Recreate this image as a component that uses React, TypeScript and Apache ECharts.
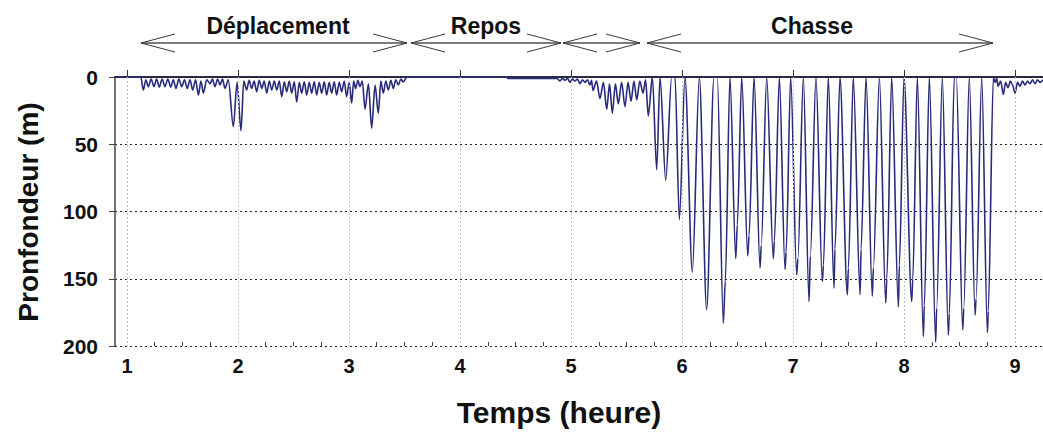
import React, { useEffect, useRef } from "react";
import * as echarts from "echarts";

// Axis extents (hours / metres)
const xMin = 0.892;
const xMax = 9.252;
const hourTicks = [1, 2, 3, 4, 5, 6, 7, 8, 9];
const quarterTicks = [
  1.25, 1.5, 1.75, 2.25, 2.5, 2.75, 3.25, 3.5, 3.75, 4.25, 4.5, 4.75, 5.25, 5.5, 5.75,
  6.25, 6.5, 6.75, 7.25, 7.5, 7.75, 8.25, 8.5, 8.75, 9.25,
];
const depthTicks = [0, 50, 100, 150, 200];

const phaseLabels = ["Déplacement", "Repos", "", "Chasse"];
const yTitle = "Pronfondeur (m)";
const xTitle = "Temps (heure)";

// Dive profile: [time (h), depth (m)]
const startSurface: number[][] = [
  [0.892, 0], [1.125, 0],
];

const deplacement: number[][] = [
  [1.147, 9.7], [1.17, 2], [1.192, 7.2], [1.218, 1.5], [1.243, 7.2], [1.267, 1.5],
  [1.291, 7.5], [1.317, 1.5], [1.342, 7.2], [1.368, 1.5], [1.394, 7.5], [1.418, 2],
  [1.441, 8.5], [1.467, 1.5], [1.493, 7.2], [1.518, 2], [1.543, 8.5], [1.568, 2],
  [1.592, 9.7], [1.618, 2], [1.643, 13.4], [1.666, 3], [1.688, 12], [1.718, 2],
  [1.748, 5], [1.77, 1.5], [1.793, 7.2], [1.816, 1.5], [1.838, 6], [1.86, 1.5],
  [1.883, 8.5], [1.913, 2], [1.958, 37], [1.992, 4], [2.027, 40], [2.052, 3],
  [2.078, 9.7], [2.1, 2.5], [2.123, 8.5], [2.146, 3], [2.168, 11], [2.191, 2.5],
  [2.214, 8.5], [2.236, 3], [2.259, 12], [2.282, 3], [2.304, 9.7], [2.327, 3],
  [2.349, 9.7], [2.372, 3], [2.394, 14.6], [2.417, 3.5], [2.439, 11], [2.462, 3],
  [2.484, 12], [2.507, 3.5], [2.529, 18.6], [2.552, 4], [2.574, 12], [2.597, 3.5],
  [2.619, 13.4], [2.642, 4], [2.664, 12], [2.687, 3.5], [2.709, 13.4], [2.732, 4],
  [2.754, 12], [2.777, 3.5], [2.799, 13.4], [2.822, 4], [2.844, 12], [2.867, 3.5],
  [2.889, 13.4], [2.912, 4], [2.934, 11], [2.957, 3], [2.979, 14.6], [3.002, 4],
  [3.024, 19.5], [3.042, 3], [3.06, 8.5], [3.08, 2.5], [3.099, 7.2], [3.12, 3],
  [3.144, 24], [3.175, 5], [3.204, 38], [3.235, 6], [3.264, 27], [3.287, 3],
  [3.309, 12], [3.332, 3], [3.354, 9.7], [3.377, 2.5], [3.399, 8.5], [3.422, 2],
  [3.444, 6], [3.467, 1.5], [3.489, 3.7], [3.523, 0],
];

const repos: number[][] = [
  [4.42, 0], [4.43, 1], [4.86, 1],
];

const transit: number[][] = [
  [4.874, 1], [4.901, 3], [4.923, 1], [4.946, 2.5], [4.968, 1], [4.991, 4],
  [5.013, 1.5], [5.036, 3], [5.058, 1.5], [5.081, 5], [5.103, 2], [5.126, 4],
  [5.148, 2], [5.171, 6], [5.185, 2.5], [5.198, 10], [5.23, 3], [5.261, 16],
  [5.292, 4], [5.322, 24], [5.347, 5], [5.372, 27], [5.4, 5], [5.426, 20],
  [5.456, 4], [5.486, 22], [5.514, 4], [5.541, 18], [5.567, 3], [5.592, 17],
  [5.62, 3], [5.649, 12], [5.672, 2], [5.696, 29], [5.733, 0],
];

const chasse: number[][] = [
  [5.772, 69], [5.802, 0], [5.853, 77], [5.907, 0], [5.937, 0], [5.976, 106],
  [6.027, 0], [6.093, 145], [6.156, 0], [6.222, 173], [6.288, 0], [6.318, 0],
  [6.372, 183], [6.39, 152], [6.432, 0], [6.484, 135], [6.498, 110], [6.538, 0],
  [6.592, 133], [6.604, 118], [6.649, 0], [6.703, 142], [6.714, 125], [6.763, 0],
  [6.822, 135], [6.832, 122], [6.877, 0], [6.928, 143], [6.938, 130], [6.979, 0],
  [7.033, 147], [7.044, 135], [7.093, 0], [7.144, 167], [7.156, 133], [7.207, 0],
  [7.264, 152], [7.274, 140], [7.318, 0], [7.369, 157], [7.378, 128], [7.423, 0],
  [7.489, 162], [7.499, 142], [7.543, 0], [7.604, 162], [7.613, 128], [7.658, 0],
  [7.714, 163], [7.724, 142], [7.778, 0], [7.835, 168], [7.845, 150], [7.889, 0],
  [7.949, 171], [7.958, 140], [8.0, 0], [8.069, 167], [8.079, 150], [8.12, 0],
  [8.174, 193], [8.183, 170], [8.228, 0], [8.285, 197], [8.294, 172], [8.345, 0],
  [8.399, 192], [8.408, 176], [8.453, 0], [8.471, 0], [8.529, 188], [8.538, 172],
  [8.588, 0], [8.64, 177], [8.649, 165], [8.7, 0], [8.751, 190], [8.759, 174],
  [8.805, 0],
];

const fin: number[][] = [
  [8.82, 4], [8.835, 1], [8.847, 7], [8.87, 3], [8.895, 13], [8.915, 4],
  [8.937, 8], [8.958, 3], [8.978, 6], [9.0, 12], [9.022, 4], [9.045, 7],
  [9.067, 3], [9.09, 6], [9.112, 3], [9.135, 5], [9.157, 2], [9.18, 5],
  [9.202, 2], [9.225, 4], [9.252, 2],
];

const FONT = "'Liberation Sans', Arial, Helvetica, sans-serif";

function arrow(x1: number, x2: number, y: number): any[] {
  return [
    { type: "line", shape: { x1, y1: y, x2, y2: y }, style: { stroke: "#7c7c7c", lineWidth: 2 } },
    {
      type: "polyline",
      shape: { points: [[x1 + 34, y - 9], [x1, y], [x1 + 34, y + 9]] },
      style: { stroke: "#3a3a3a", lineWidth: 1, fill: "none" },
    },
    {
      type: "polyline",
      shape: { points: [[x2 - 34, y - 9], [x2, y], [x2 - 34, y + 9]] },
      style: { stroke: "#3a3a3a", lineWidth: 1, fill: "none" },
    },
  ];
}

export default function App() {
  const ref = useRef<HTMLDivElement>(null);
  useEffect(() => {
    if (!ref.current) return;
    const chart = echarts.init(ref.current, null, { renderer: "svg" });
    const profile = [...startSurface, ...deplacement, ...repos, ...transit, ...chasse, ...fin];
    const arrowY = 43;
    const spans = [
      [141, 407, 278],
      [411, 561, 486],
      [563, 640, 0],
      [647, 993, 812],
    ];
    const graphics: any[] = [];
    spans.forEach((s, i) => {
      graphics.push(...arrow(s[0], s[1], arrowY));
      if (phaseLabels[i]) {
        graphics.push({
          type: "text",
          x: s[2],
          y: 26,
          style: {
            text: phaseLabels[i],
            font: `bold 23px ${FONT}`,
            fill: "#111",
            align: "center",
            verticalAlign: "middle",
          },
        });
      }
    });
    graphics.push({
      type: "text",
      x: 28,
      y: 212,
      rotation: Math.PI / 2,
      style: { text: yTitle, font: `bold 28px ${FONT}`, fill: "#111", align: "center", verticalAlign: "middle" },
    });
    graphics.push({
      type: "text",
      x: 559,
      y: 412,
      style: { text: xTitle, font: `bold 30px ${FONT}`, fill: "#111", align: "center", verticalAlign: "middle" },
    });

    const option: any = {
      animation: false,
      backgroundColor: "#ffffff",
      grid: { left: 115, right: 0, top: 77, bottom: 86, containLabel: false },
      xAxis: [
        {
          type: "value",
          position: "bottom",
          min: xMin,
          max: xMax,
          axisLine: { show: true, lineStyle: { color: "#333", width: 1.5 } },
          axisTick: { show: true, inside: true, length: 7, customValues: hourTicks, lineStyle: { color: "#333" } },
          axisLabel: {
            customValues: hourTicks,
            margin: 10,
            fontSize: 20,
            fontWeight: "bold",
            fontFamily: FONT,
            color: "#111",
          },
          splitLine: { show: false },
        },
        {
          type: "value",
          position: "bottom",
          min: xMin,
          max: xMax,
          axisLine: { show: false },
          axisTick: { show: true, inside: true, length: 4, customValues: quarterTicks, lineStyle: { color: "#444" } },
          axisLabel: { show: false },
          splitLine: { show: false },
        },
        {
          type: "value",
          position: "top",
          min: xMin,
          max: xMax,
          axisLine: { show: true, lineStyle: { color: "#1a1a3a", width: 1.5 } },
          axisTick: { show: false },
          axisLabel: { show: false },
          splitLine: { show: false },
        },
      ],
      yAxis: {
        type: "value",
        inverse: true,
        min: 0,
        max: 200,
        interval: 50,
        axisLine: { show: true, lineStyle: { color: "#444", width: 1.5 } },
        axisTick: { show: true, inside: false, length: 6, lineStyle: { color: "#444" } },
        axisLabel: {
          margin: 17,
          fontSize: 21,
          fontWeight: "bold",
          fontFamily: FONT,
          color: "#111",
          customValues: depthTicks,
        },
        splitLine: { show: true, lineStyle: { color: "#222", type: [2, 3], width: 1.2 } },
      },
      graphic: graphics,
      series: [
        {
          type: "line",
          xAxisIndex: 0,
          data: [[xMin, 0]],
          showSymbol: false,
          silent: true,
          lineStyle: { width: 0 },
          z: 1,
          markLine: {
            silent: true,
            symbol: ["none", "none"],
            label: { show: false },
            lineStyle: { color: "#c4c4c4", type: [2, 2], width: 1 },
            data: hourTicks.map((h) => ({ xAxis: h })),
          },
        },
        {
          type: "line",
          xAxisIndex: 0,
          data: profile,
          showSymbol: false,
          silent: true,
          smooth: 0.3,
          smoothMonotone: "x",
          clip: true,
          z: 3,
          lineStyle: { color: "#272b79", width: 1.6 },
        },
      ],
    };
    chart.setOption(option);
    return () => chart.dispose();
  }, []);
  return (
    <div
      ref={ref}
      style={{ position: "fixed", left: 0, top: 0, width: 1043, height: 432, background: "#fff" }}
    />
  );
}
